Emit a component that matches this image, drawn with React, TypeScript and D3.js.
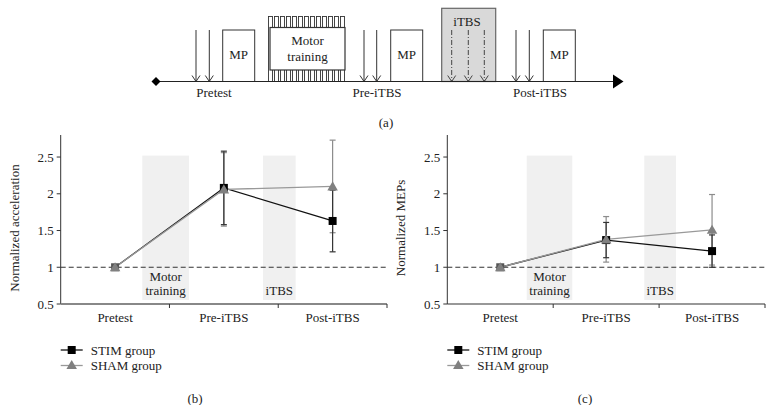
import React from "react";
import * as d3 from "d3";

const categories = ["Pretest", "Pre-iTBS", "Post-iTBS"];
const yTicks = [0.5, 1, 1.5, 2, 2.5];
const yTickLabels = ["0.5", "1", "1.5", "2", "2.5"];

const accStim = [1.0, 2.08, 1.63];
const accStimErr = [0, 0.5, 0.42];
const accSham = [1.0, 2.06, 2.1];
const accShamErr = [0, 0.5, 0.63];

const mepStim = [1.0, 1.37, 1.22];
const mepStimErr = [0, 0.24, 0.22];
const mepSham = [1.0, 1.38, 1.51];
const mepShamErr = [0, 0.31, 0.48];

const seriesNames = ["STIM group", "SHAM group"];

const FONT = "'Liberation Serif', 'Times New Roman', serif";

type PanelProps = {
  x0: number;
  x1: number;
  yTitle: string;
  stim: number[];
  stimErr: number[];
  sham: number[];
  shamErr: number[];
  label: string;
  labelX: number;
  axisColor: string;
  axisWidth: number;
};

function Panel(p: PanelProps) {
  const y = d3.scaleLinear().domain([0.5, 2.8]).range([304, 135]);
  const xc = d3.scaleLinear().domain([0, 3]).range([p.x0, p.x1]);
  const px = (i: number) => xc(i + 0.5);
  const stimLine = d3
    .line<number>()
    .x((_, i) => px(i))
    .y((d) => y(d));
  const tri = d3.symbol().type(d3.symbolTriangle).size(48)();
  const shadeTop = y(2.52);
  const shadeBot = 300;
  const y1 = y(1);
  const motor = [0.75, 1.18];
  const itbs = [1.86, 2.16];
  return (
    <g fontFamily={FONT}>
      {/* shaded bands */}
      <rect x={xc(motor[0])} y={shadeTop} width={xc(motor[1]) - xc(motor[0])} height={shadeBot - shadeTop} fill="#f0f0f0" />
      <rect x={xc(itbs[0])} y={shadeTop} width={xc(itbs[1]) - xc(itbs[0])} height={shadeBot - shadeTop} fill="#f0f0f0" />
      <text x={(xc(motor[0]) + xc(motor[1])) / 2} y={y1 + 14} fontSize={13} textAnchor="middle" fill="#222">Motor</text>
      <text x={(xc(motor[0]) + xc(motor[1])) / 2} y={y1 + 28} fontSize={13} textAnchor="middle" fill="#222">training</text>
      <text x={(xc(itbs[0]) + xc(itbs[1])) / 2} y={y1 + 28} fontSize={13} textAnchor="middle" fill="#222">iTBS</text>
      {/* dashed baseline */}
      <line x1={p.x0} x2={p.x1} y1={y1} y2={y1} stroke="#333" strokeWidth={1.2} strokeDasharray="5,3" />
      {/* y axis */}
      <line x1={p.x0} x2={p.x0} y1={y(0.5)} y2={y(2.8)} stroke="#333" strokeWidth={1} />
      {yTicks.map((t, i) => (
        <g key={t}>
          <line x1={p.x0 - 4} x2={p.x0} y1={y(t)} y2={y(t)} stroke="#333" />
          <text x={p.x0 - 7} y={y(t) + 4.5} fontSize={13} textAnchor="end" fill="#222">{yTickLabels[i]}</text>
        </g>
      ))}
      <text transform={`translate(${p.x0 - 42},${228}) rotate(-90)`} fontSize={13} textAnchor="middle" fill="#222">{p.yTitle}</text>
      {/* x axis */}
      <line x1={p.x0} x2={p.x1} y1={y(0.5)} y2={y(0.5)} stroke={p.axisColor} strokeWidth={p.axisWidth} />
      {[1, 2, 3].map((i) => (
        <line key={i} x1={xc(i)} x2={xc(i)} y1={y(0.5)} y2={y(0.5) + 4} stroke="#333" />
      ))}
      {categories.map((c, i) => (
        <text key={c} x={px(i)} y={322} fontSize={13} textAnchor="middle" fill="#222">{c}</text>
      ))}
      {/* error bars SHAM */}
      {p.sham.map((v, i) =>
        p.shamErr[i] > 0 ? (
          <g key={"se" + i} stroke="#8c8c8c" strokeWidth={1.2}>
            <line x1={px(i)} x2={px(i)} y1={y(v + p.shamErr[i])} y2={y(v - p.shamErr[i])} />
            <line x1={px(i) - 3} x2={px(i) + 3} y1={y(v + p.shamErr[i])} y2={y(v + p.shamErr[i])} />
            <line x1={px(i) - 3} x2={px(i) + 3} y1={y(v - p.shamErr[i])} y2={y(v - p.shamErr[i])} />
          </g>
        ) : null
      )}
      {/* error bars STIM */}
      {p.stim.map((v, i) =>
        p.stimErr[i] > 0 ? (
          <g key={"te" + i} stroke="#333" strokeWidth={1.2}>
            <line x1={px(i)} x2={px(i)} y1={y(v + p.stimErr[i])} y2={y(v - p.stimErr[i])} />
            <line x1={px(i) - 3} x2={px(i) + 3} y1={y(v + p.stimErr[i])} y2={y(v + p.stimErr[i])} />
            <line x1={px(i) - 3} x2={px(i) + 3} y1={y(v - p.stimErr[i])} y2={y(v - p.stimErr[i])} />
          </g>
        ) : null
      )}
      {/* lines */}
      <path d={stimLine(p.stim) || ""} fill="none" stroke="#111" strokeWidth={1.3} />
      <path d={stimLine(p.sham) || ""} fill="none" stroke="#999" strokeWidth={1.3} />
      {p.stim.map((v, i) => (
        <rect key={"sq" + i} x={px(i) - 4} y={y(v) - 4} width={8} height={8} fill={i === 0 ? "#555" : "#000"} />
      ))}
      {p.sham.map((v, i) => (
        <path key={"tr" + i} d={tri || ""} transform={`translate(${px(i)},${y(v) + 1})`} fill="#808080" />
      ))}
      {/* legend */}
      <line x1={p.x0} x2={p.x0 + 22} y1={350} y2={350} stroke="#111" strokeWidth={1.3} />
      <rect x={p.x0 + 7} y={346} width={8} height={8} fill="#000" />
      <text x={p.x0 + 30} y={354.5} fontSize={13} fill="#222">{seriesNames[0]}</text>
      <line x1={p.x0} x2={p.x0 + 22} y1={365.5} y2={365.5} stroke="#999" strokeWidth={1.3} />
      <path d={tri || ""} transform={`translate(${p.x0 + 11},${366})`} fill="#808080" />
      <text x={p.x0 + 30} y={370} fontSize={13} fill="#222">{seriesNames[1]}</text>
      <text x={p.labelX} y={403} fontSize={13} textAnchor="middle" fill="#222">{p.label}</text>
    </g>
  );
}

function DownArrow({ x, y1, y2, dashed }: { x: number; y1: number; y2: number; dashed?: boolean }) {
  return (
    <g stroke={dashed ? "#444" : "#333"} strokeWidth={1} fill="none">
      <line x1={x} x2={x} y1={y1} y2={y2} strokeDasharray={dashed ? "5,2,1,2" : undefined} />
      <path d={`M${x - 4},${y2 - 6} L${x},${y2} L${x + 4},${y2 - 6}`} />
    </g>
  );
}

function Protocol() {
  const ty = 81.5;
  const teeth = d3.range(268.5, 346, 6);
  return (
    <g fontFamily={FONT} fill="#222">
      {/* Motor training comb */}
      {teeth.map((tx) => (
        <rect key={tx} x={tx} y={16.5} width={4} height={ty - 16.5} fill="none" stroke="#333" strokeWidth={0.9} />
      ))}
      <rect x={270} y={27.5} width={75} height={42.5} fill="#fff" stroke="#333" strokeWidth={1.2} />
      <text x={307.5} y={45} fontSize={13} textAnchor="middle">Motor</text>
      <text x={307.5} y={61} fontSize={13} textAnchor="middle">training</text>
      {/* iTBS box */}
      <rect x={441.7} y={8.3} width={54} height={ty - 8.3} fill="#d9d9d9" stroke="#666" strokeWidth={1.2} />
      <text x={467} y={26} fontSize={13} textAnchor="middle">iTBS</text>
      <DownArrow x={451.7} y1={30} y2={ty} dashed />
      <DownArrow x={468.3} y1={30} y2={ty} dashed />
      <DownArrow x={484.3} y1={30} y2={ty} dashed />
      {/* MP boxes */}
      {[222.7, 390.7, 543.3].map((bx) => (
        <g key={bx}>
          <rect x={bx} y={30} width={32} height={ty - 30} fill="#fff" stroke="#333" strokeWidth={1} />
          <text x={bx + 16} y={59} fontSize={13} textAnchor="middle">MP</text>
        </g>
      ))}
      {[196, 209.3, 364, 376.7, 516, 529.3].map((ax) => (
        <DownArrow key={ax} x={ax} y1={30} y2={ty} />
      ))}
      {/* timeline */}
      <line x1={156} x2={614} y1={ty} y2={ty} stroke="#222" strokeWidth={1.2} />
      <path d={`M613,${ty - 7} L623.5,${ty} L613,${ty + 7} Z`} fill="#000" />
      <path d={`M156,${ty - 4.5} L160.5,${ty} L156,${ty + 4.5} L151.5,${ty} Z`} fill="#000" />
      <text x={214} y={97} fontSize={13} textAnchor="middle">Pretest</text>
      <text x={377} y={97} fontSize={13} textAnchor="middle">Pre-iTBS</text>
      <text x={540} y={97} fontSize={13} textAnchor="middle">Post-iTBS</text>
      <text x={386} y={127} fontSize={13} textAnchor="middle">(a)</text>
    </g>
  );
}

export default function App() {
  return (
    <svg width={776} height={405} style={{ position: "absolute", left: 0, top: 0, background: "#fff" }}>
      <rect width={776} height={405} fill="#fff" />
      <Protocol />
      <Panel x0={60.7} x1={387} yTitle="Normalized acceleration" stim={accStim} stimErr={accStimErr} sham={accSham} shamErr={accShamErr} label="(b)" labelX={195} axisColor="#888" axisWidth={2} />
      <Panel x0={447.3} x1={765} yTitle="Normalized MEPs" stim={mepStim} stimErr={mepStimErr} sham={mepSham} shamErr={mepShamErr} label="(c)" labelX={585} axisColor="#333" axisWidth={1.2} />
    </svg>
  );
}
